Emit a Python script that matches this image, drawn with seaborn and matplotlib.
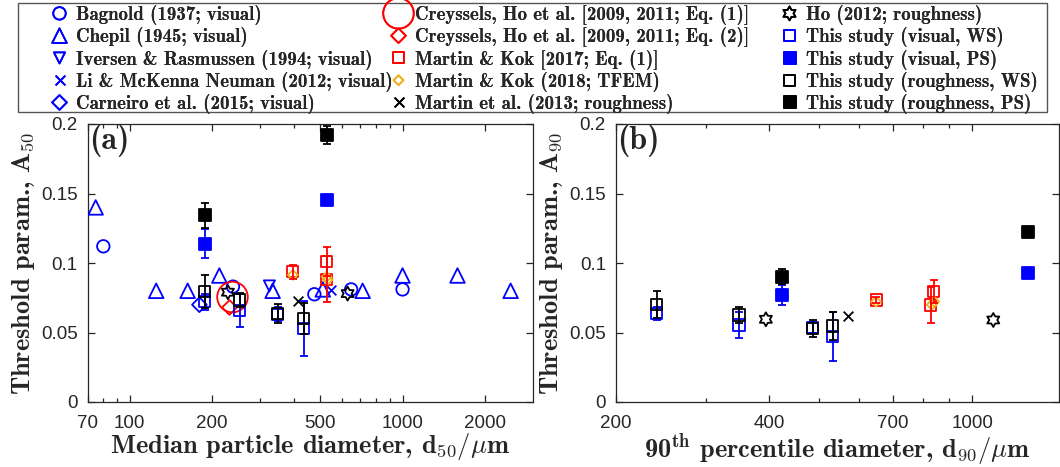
import numpy as np
import matplotlib
matplotlib.use("Agg")
import matplotlib.pyplot as plt
from matplotlib.path import Path
from matplotlib.patches import Rectangle
from matplotlib.ticker import FixedLocator, FixedFormatter, NullFormatter
import seaborn as sns

# ---------------- data: panel (a), x = d50 (um), y = A50 ----------------
bagnold_d50 = [80, 239, 475, 648, 1000]
bagnold_A50 = [0.112, 0.083, 0.0775, 0.081, 0.081]
chepil_d50 = [75, 125, 163, 213, 334, 510, 714, 1000, 1590, 2490]
chepil_A50 = [0.140, 0.080, 0.080, 0.091, 0.080, 0.081, 0.080, 0.091, 0.091, 0.080]
iversen_d50 = [325]
iversen_A50 = [0.0835]
li_d50 = [547]
li_A50 = [0.0806]
carneiro_d50 = [180]
carneiro_A50 = [0.070]
creys1_d50 = [238]
creys1_A50 = [0.0755]
creys2_d50 = [232]
creys2_A50 = [0.068]
mk17_d50 = [396, 527, 527]
mk17_A50 = [0.0938, 0.101, 0.0883]
mk17_A50_err = [0.005, 0.0107, 0.0165]
mk18_d50 = [396, 527, 532]
mk18_A50 = [0.0914, 0.090, 0.088]
martin13_d50 = [413]
martin13_A50 = [0.073]
ho_d50 = [229, 629]
ho_A50 = [0.079, 0.078]
visWS_d50 = [188, 253, 349, 434]
visWS_A50 = [0.072, 0.066, 0.063, 0.053]
visWS_A50_err = [0.006, 0.012, 0.005, 0.020]
visPS_d50 = [188, 527]
visPS_A50 = [0.114, 0.1453]
visPS_A50_err = [0.0105, 0.003]
rouWS_d50 = [188, 253, 349, 434]
rouWS_A50 = [0.0794, 0.0734, 0.0638, 0.060]
rouWS_A50_err = [0.012, 0.005, 0.007, 0.011]
rouPS_d50 = [188, 527]
rouPS_A50 = [0.1345, 0.192]
rouPS_A50_err = [0.009, 0.0065]

# ---------------- data: panel (b), x = d90 (um), y = A90 ----------------
ho_d90 = [394, 1100]
ho_A90 = [0.0595, 0.059]
martin13_d90 = [572]
martin13_A90 = [0.0619]
mk17_d90 = [648, 840, 830]
mk17_A90 = [0.0734, 0.0794, 0.0698]
mk17_A90_err = [0.002, 0.0084, 0.0128]
mk18_d90 = [648, 843, 833]
mk18_A90 = [0.0722, 0.0722, 0.070]
visWS_d90 = [240.5, 349, 487, 533]
visWS_A90 = [0.0638, 0.0554, 0.0535, 0.047]
visWS_A90_err = [0.0045, 0.0095, 0.004, 0.0175]
visPS_d90 = [424.6, 1289]
visPS_A90 = [0.077, 0.0926]
visPS_A90_err = [0.007, 0.001]
rouWS_d90 = [240.5, 349, 487, 533]
rouWS_A90 = [0.0703, 0.0626, 0.053, 0.0547]
rouWS_A90_err = [0.0096, 0.006, 0.006, 0.010]
rouPS_d90 = [424.6, 1289]
rouPS_A90 = [0.0901, 0.1225]
rouPS_A90_err = [0.0055, 0.002]

labels = {
    "bagnold": "Bagnold (1937; visual)",
    "chepil": "Chepil (1945; visual)",
    "iversen": "Iversen & Rasmussen (1994; visual)",
    "li": "Li & McKenna Neuman (2012; visual)",
    "carneiro": "Carneiro et al. (2015; visual)",
    "creys1": "Creyssels, Ho et al. [2009, 2011; Eq. (1)]",
    "creys2": "Creyssels, Ho et al. [2009, 2011; Eq. (2)]",
    "mk17": "Martin & Kok [2017; Eq. (1)]",
    "mk18": "Martin & Kok (2018; TFEM)",
    "martin13": "Martin et al. (2013; roughness)",
    "ho": "Ho (2012; roughness)",
    "visWS": "This study (visual, WS)",
    "visPS": "This study (visual, PS)",
    "rouWS": "This study (roughness, WS)",
    "rouPS": "This study (roughness, PS)",
}
legend_columns = [["bagnold", "chepil", "iversen", "li", "carneiro"],
                  ["creys1", "creys2", "mk17", "mk18", "martin13"],
                  ["ho", "visWS", "visPS", "rouWS", "rouPS"]]

# ---------------- style ----------------
sns.set_theme(style="ticks")
plt.rcParams.update({
    "font.family": ["cmb10", "DejaVu Serif"],
    "mathtext.fontset": "cm",
    "axes.unicode_minus": False,
    "xtick.direction": "in", "ytick.direction": "in",
    "xtick.top": True, "ytick.right": True,
    "axes.linewidth": 0.9, "axes.edgecolor": "#262626",
    "xtick.color": "#262626", "ytick.color": "#262626",
    "axes.facecolor": "white", "figure.facecolor": "white",
})

BLUE, RED, BLACK, ORANGE = "#0000FF", "#FF0000", "#000000", "#EDB120"

ang = np.pi / 2 + np.arange(12) * np.pi / 6
rad = np.where(np.arange(12) % 2 == 0, 1.0, 0.577)
hv = np.column_stack([rad * np.cos(ang), rad * np.sin(ang)])
HEXAGRAM = Path(np.vstack([hv, hv[:1]]), closed=True)

STYLE = {
    "bagnold": dict(marker="o", ms=9, face="none", edge=BLUE),
    "chepil": dict(marker="^", ms=10.5, face="none", edge=BLUE),
    "iversen": dict(marker="v", ms=8, face="none", edge=BLUE),
    "li": dict(marker="x", ms=7, face=None, edge=BLUE),
    "carneiro": dict(marker="D", ms=7.5, face="none", edge=BLUE),
    "creys1": dict(marker="o", ms=22, face="none", edge=RED),
    "creys2": dict(marker="D", ms=7.5, face="none", edge=RED),
    "mk17": dict(marker="s", ms=8, face="none", edge=RED),
    "mk18": dict(marker="D", ms=5, face="none", edge=ORANGE),
    "martin13": dict(marker="x", ms=7, face=None, edge=BLACK),
    "ho": dict(marker=HEXAGRAM, ms=10, face="none", edge=BLACK),
    "visWS": dict(marker="s", ms=8, face="none", edge=BLUE),
    "visPS": dict(marker="s", ms=8, face=BLUE, edge=BLUE),
    "rouWS": dict(marker="s", ms=8, face="none", edge=BLACK),
    "rouPS": dict(marker="s", ms=8, face=BLACK, edge=BLACK),
}


def draw(ax, key, x, y, yerr=None, z=3):
    st = STYLE[key]
    if yerr is not None:
        ax.errorbar(x, y, yerr=yerr, fmt="none", ecolor=st["edge"],
                    elinewidth=1.3, capsize=3, capthick=1.3, zorder=z + 0.5)
    kw = dict(x=x, y=y, ax=ax, marker=st["marker"], s=st["ms"] ** 2,
              linewidth=1.3, label=labels[key], legend=False, zorder=z)
    if st["face"] is None:
        kw["color"] = st["edge"]
    else:
        kw["facecolor"] = st["face"]
        kw["edgecolor"] = st["edge"]
    sns.scatterplot(**kw)


W, H = 1060, 467
fig = plt.figure(figsize=(W / 100, H / 100), dpi=100)
axa = fig.add_axes([87.5 / W, 65 / H, (532.7 - 87.5) / W, 278 / H])
axb = fig.add_axes([615.7 / W, 65 / H, (1059 - 615.7) / W, 278 / H])

# panel (a)
draw(axa, "bagnold", bagnold_d50, bagnold_A50)
draw(axa, "chepil", chepil_d50, chepil_A50)
draw(axa, "iversen", iversen_d50, iversen_A50)
draw(axa, "li", li_d50, li_A50)
draw(axa, "carneiro", carneiro_d50, carneiro_A50)
draw(axa, "creys1", creys1_d50, creys1_A50)
draw(axa, "creys2", creys2_d50, creys2_A50)
draw(axa, "mk17", mk17_d50, mk17_A50, mk17_A50_err)
draw(axa, "mk18", mk18_d50, mk18_A50)
draw(axa, "martin13", martin13_d50, martin13_A50)
draw(axa, "ho", ho_d50, ho_A50)
draw(axa, "visWS", visWS_d50, visWS_A50, visWS_A50_err, z=4)
draw(axa, "visPS", visPS_d50, visPS_A50, visPS_A50_err, z=4)
draw(axa, "rouWS", rouWS_d50, rouWS_A50, rouWS_A50_err, z=5)
draw(axa, "rouPS", rouPS_d50, rouPS_A50, rouPS_A50_err, z=5)

# panel (b)
draw(axb, "ho", ho_d90, ho_A90)
draw(axb, "martin13", martin13_d90, martin13_A90)
draw(axb, "mk17", mk17_d90, mk17_A90, mk17_A90_err)
draw(axb, "mk18", mk18_d90, mk18_A90)
draw(axb, "visWS", visWS_d90, visWS_A90, visWS_A90_err, z=4)
draw(axb, "visPS", visPS_d90, visPS_A90, visPS_A90_err, z=4)
draw(axb, "rouWS", rouWS_d90, rouWS_A90, rouWS_A90_err, z=5)
draw(axb, "rouPS", rouPS_d90, rouPS_A90, rouPS_A90_err, z=5)

tick_font = dict(family="Liberation Sans", size=13.5)
yt = [0, 0.05, 0.1, 0.15, 0.2]
ytl = ["0", "0.05", "0.1", "0.15", "0.2"]
LABEL_SIZE = 19


def setup(ax, xlim, major, minor, xlabel, ylabel, tag):
    ax.set_xscale("log")
    ax.set_xlim(*xlim)
    ax.set_ylim(0, 0.2)
    ax.xaxis.set_major_locator(FixedLocator(major))
    ax.xaxis.set_major_formatter(FixedFormatter([str(v) for v in major]))
    ax.xaxis.set_minor_locator(FixedLocator(minor))
    ax.xaxis.set_minor_formatter(NullFormatter())
    ax.yaxis.set_major_locator(FixedLocator(yt))
    ax.yaxis.set_major_formatter(FixedFormatter(ytl))
    ax.tick_params(which="major", length=5, width=0.9, labelcolor="#262626")
    ax.tick_params(which="minor", length=3, width=0.9)
    ax.tick_params(axis="x", which="major", pad=9)
    ax.tick_params(axis="y", which="major", pad=7)
    for lab in ax.get_xticklabels() + ax.get_yticklabels():
        lab.set_fontfamily(tick_font["family"])
        lab.set_fontsize(tick_font["size"])
    ax.set_xlabel(xlabel, fontsize=LABEL_SIZE, labelpad=0, color="#262626")
    ax.set_ylabel(ylabel, fontsize=LABEL_SIZE, labelpad=3, color="#262626")
    ax.text(0.003, 1.0, tag, transform=ax.transAxes, fontsize=23,
            va="top", ha="left", color="#262626")
    ax.grid(False)
    for sp in ax.spines.values():
        sp.set_visible(True)
        sp.set_color("#262626")


setup(axa, (70, 3000), [70, 100, 200, 500, 1000, 2000],
      [80, 90, 300, 400, 600, 700, 800, 900],
      r"Median particle diameter, d$_{\mathbf{50}}/\mu$m",
      r"Threshold param., A$_{\mathbf{50}}$", "(a)")
setup(axb, (200, 1480), [200, 400, 700, 1000],
      [300, 500, 600, 800, 900],
      r"90$^{\mathbf{th}}$ percentile diameter, d$_{\mathbf{90}}/\mu$m",
      r"Threshold param., A$_{\mathbf{90}}$", "(b)")

# legend: three columns placed at the reference column positions, one frame
h, l = axa.get_legend_handles_labels()
hmap = dict(zip(l, h))
col_x = [51, 390, 781]
for keys, cx in zip(legend_columns, col_x):
    lg = fig.legend([hmap[labels[k]] for k in keys], [labels[k] for k in keys],
                    ncol=1, loc="upper left", bbox_to_anchor=(cx / W, 1 - 5 / H),
                    frameon=False, borderaxespad=0, borderpad=0,
                    scatteryoffsets=[0.5], prop=dict(family="cmb10", size=13.6),
                    handlelength=0.9, handletextpad=0.4, labelspacing=0.12)
    fig.add_artist(lg)
fig.add_artist(Rectangle((18 / W, 1 - 112 / H), 1029 / W, 109 / H,
                         transform=fig.transFigure, fill=False,
                         edgecolor="#555555", linewidth=1.0, zorder=0))

fig.savefig("out.png", dpi=100)
